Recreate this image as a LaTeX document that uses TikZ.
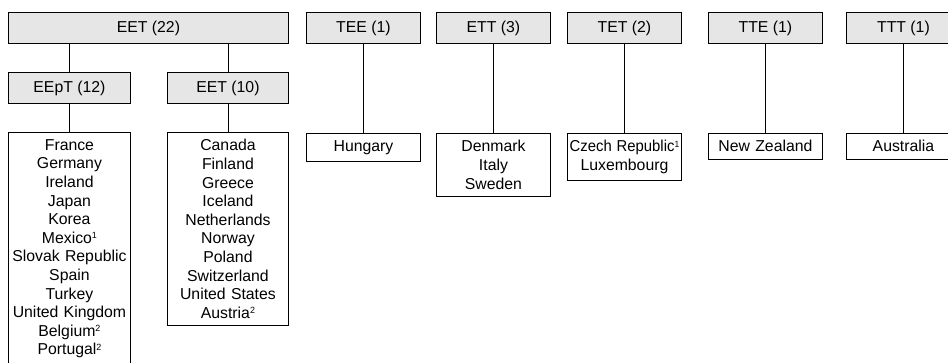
\documentclass[tikz,border=0pt]{standalone}
\usepackage{fontspec}
\setmainfont{Liberation Sans}
\definecolor{boxgray}{HTML}{E6E6E6}
\tikzset{
  head/.style={draw, fill=boxgray, minimum height=31pt, inner sep=0pt,
    anchor=north west, line width=0.9pt},
  list/.style={draw, align=center, anchor=north west, inner xsep=0pt,
    inner ysep=7pt, line width=0.9pt},
}
\newcommand{\fn}[1]{\raisebox{4.6pt}{\fontsize{9}{9}\selectfont #1}}
\begin{document}
\begin{tikzpicture}[x=1pt, y=-1pt, font=\fontsize{15.8}{18.6}\selectfont]
      \clip (0,0) rectangle (948,362);
      \path
        (8,12) node[head, minimum width=280pt] (eet){EET (22)}
        (8,72) node[head, minimum width=122pt] (eept){EEpT (12)}
        (167,72) node[head, minimum width=121pt] (eetb){EET (10)}
        (306,12) node[head, minimum width=114pt] (tee){TEE (1)}
        (436,12) node[head, minimum width=114pt] (ett){ETT (3)}
        (567,12) node[head, minimum width=114pt] (tet){TET (2)}
        (708,12) node[head, minimum width=114pt] (tte){TTE (1)}
        (846,12) node[head, minimum width=114pt] (ttt){TTT (1)};
      \path
        (8,132) node[list, text width=122pt] (l0){France\\Germany\\Ireland\\Japan\\Korea\\Mexico\fn{1}\\Slovak Republic\\Spain\\Turkey\\United Kingdom\\Belgium\fn{2}\\Portugal\fn{2}}
        (167,132) node[list, text width=121pt] (l1){Canada\\Finland\\Greece\\Iceland\\Netherlands\\Norway\\Poland\\Switzerland\\United States\\Austria\fn{2}}
        (306,133) node[list, text width=114pt] (l2){Hungary}
        (436,133) node[list, text width=114pt] (l3){Denmark\\Italy\\Sweden}
        (567,133) node[list, text width=114pt] (l4){\scalebox{0.94}[1]{Czech Republic\fn{1}}\\Luxembourg}
        (708,133) node[list, text width=114pt] (l5){New Zealand}
        (846,133) node[list, text width=114pt] (l6){Australia};
      \begin{scope}[line width=0.8pt]
        \draw (eept.north) to (eept.north |- eet.south);
        \draw (eetb.north) to (eetb.north |- eet.south);
        \draw (eept) to (l0);
        \draw (eetb) to (l1);
        \draw (tee) to (l2);
        \draw (ett) to (l3);
        \draw (tet) to (l4);
        \draw (tte) to (l5);
        \draw (ttt) to (l6);
      \end{scope}
    \end{tikzpicture}
\end{document}
